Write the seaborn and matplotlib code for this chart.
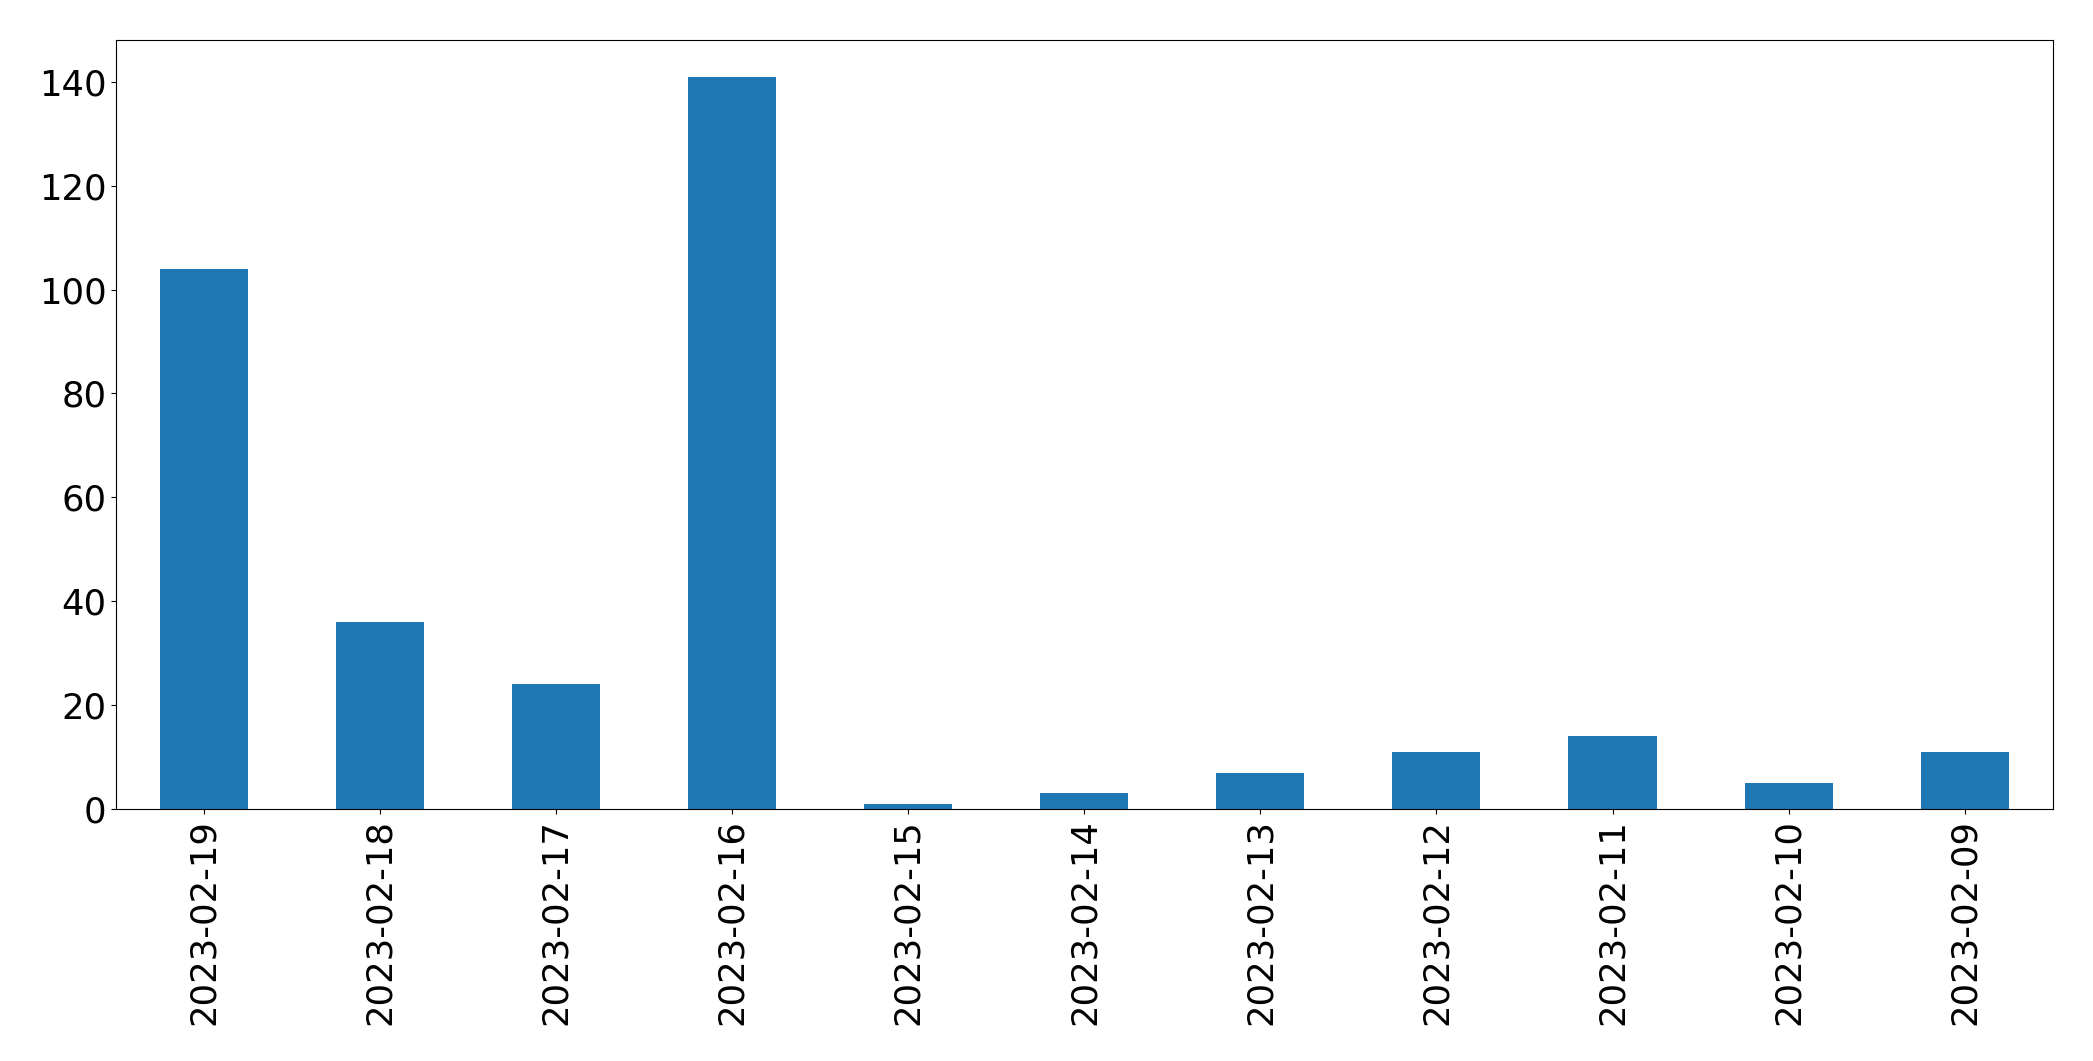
import matplotlib
matplotlib.use("Agg")
import matplotlib.pyplot as plt
import seaborn as sns
import pandas as pd

dates = ["2023-02-19", "2023-02-18", "2023-02-17", "2023-02-16", "2023-02-15",
         "2023-02-14", "2023-02-13", "2023-02-12", "2023-02-11", "2023-02-10",
         "2023-02-09"]
counts = [104, 36, 24, 141, 1, 3, 7, 11, 14, 5, 11]

df = pd.DataFrame({"date": dates, "count": counts})

plt.rcParams['font.family'] = ['DejaVu Sans']
fig = plt.figure(figsize=(20.93, 10.61), dpi=100)
ax = fig.add_axes([0.0555, 0.2375, 0.9252, 0.7248])
sns.barplot(data=df, x="date", y="count", order=dates, color="#1f77b4",
            saturation=1, width=0.5, ax=ax)
ax.set_xlim(-0.5, len(dates) - 0.5)
ax.set_ylim(0, max(counts) * 1.05)
ax.set_xlabel("")
ax.set_ylabel("")
ax.tick_params(axis="x", labelrotation=90, labelsize=25.5)
ax.tick_params(axis="y", labelsize=25.5)
for s in ax.spines.values():
    s.set_visible(True)
    s.set_linewidth(0.8)
fig.savefig("out.png", dpi=100)
